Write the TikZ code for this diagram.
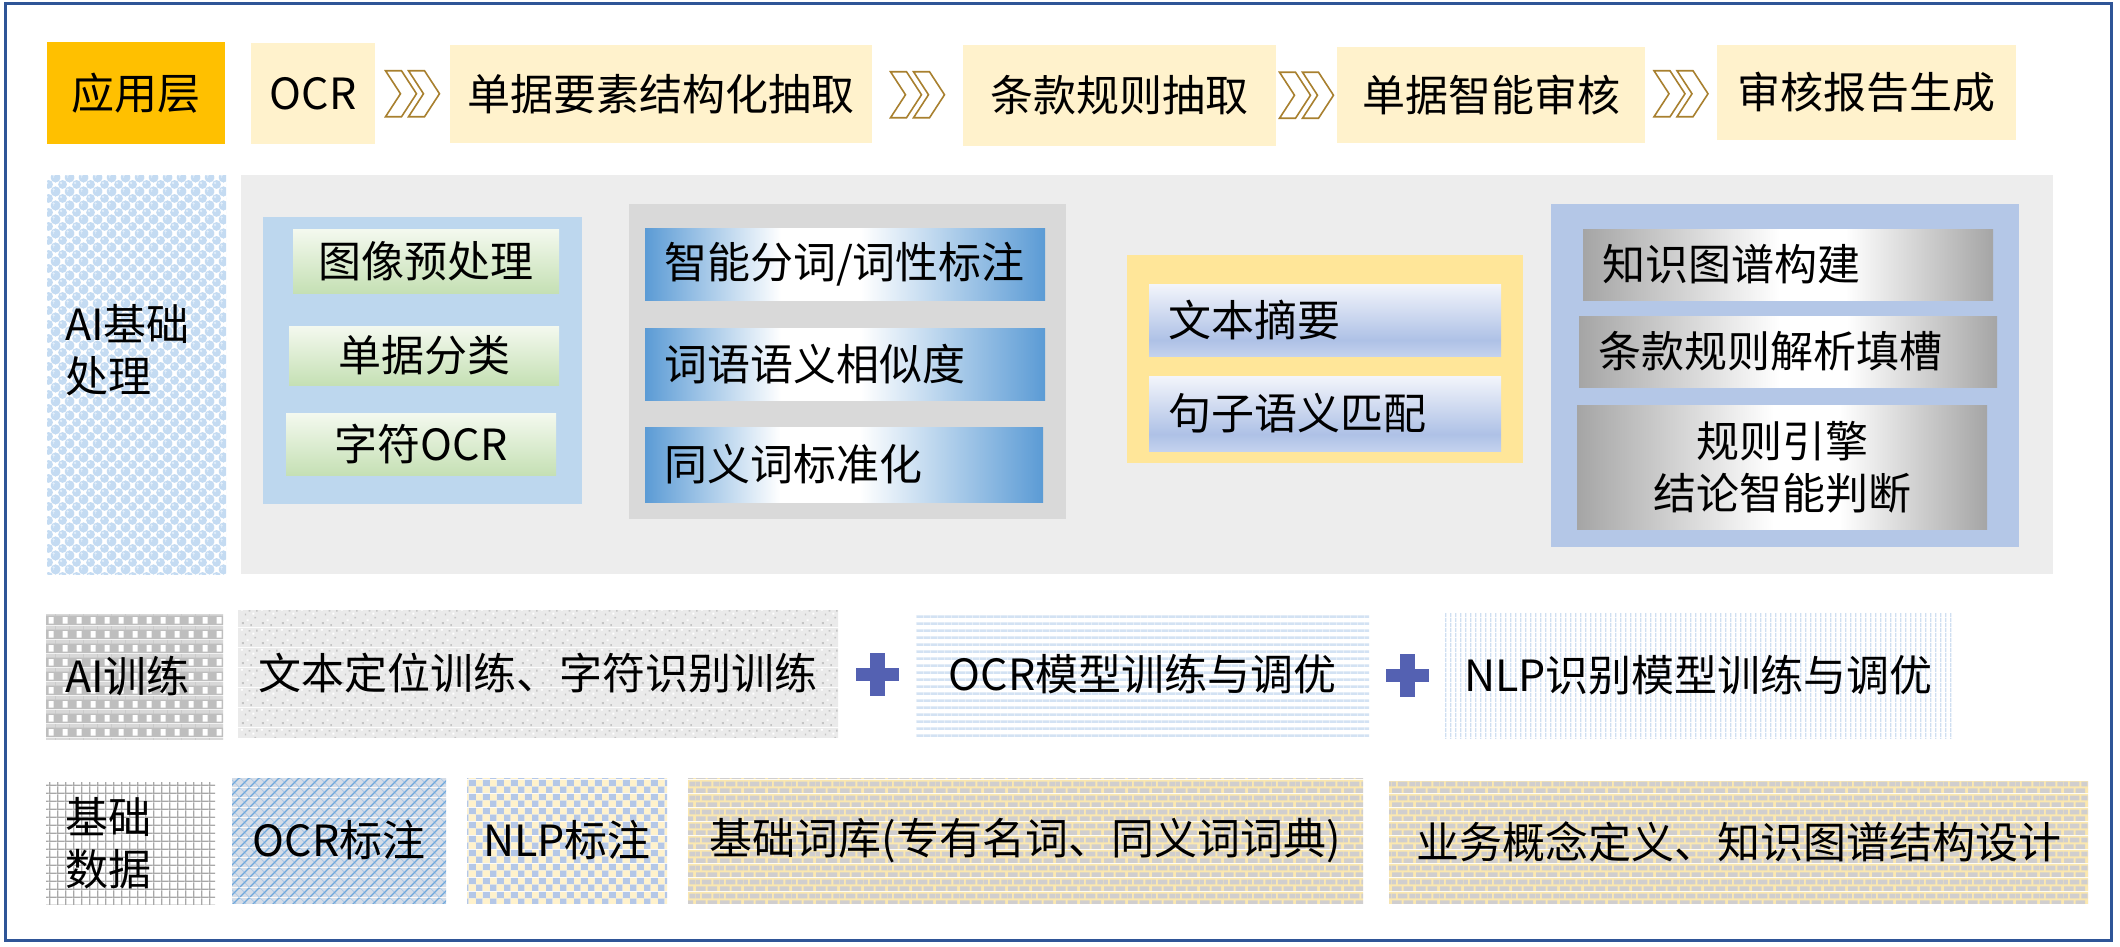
\documentclass[tikz,border=0pt]{standalone}
\usepackage{fontspec}
\setmainfont{Noto Sans CJK SC}
\usetikzlibrary{patterns.meta,calc}

\definecolor{frameC}{HTML}{2F5597}
\definecolor{goldC}{HTML}{FFC000}
\definecolor{creamC}{HTML}{FFF2CC}
\definecolor{chevC}{HTML}{A8802F}
\definecolor{panelC}{HTML}{EDEDED}
\definecolor{lblueC}{HTML}{BDD7EE}
\definecolor{dgrayC}{HTML}{D9D9D9}
\definecolor{yelC}{HTML}{FFE699}
\definecolor{pblueC}{HTML}{B4C7E7}
\definecolor{greenT}{HTML}{F4F9EF}
\definecolor{greenB}{HTML}{C5E0B4}
\definecolor{bwbL}{HTML}{5B9BD5}
\definecolor{bwbR}{HTML}{5B9BD5}
\definecolor{grayS}{HTML}{A5A5A5}
\definecolor{sumT}{HTML}{F3F5FB}
\definecolor{sumM}{HTML}{AEC1E6}
\definecolor{sumB}{HTML}{C4D2EE}
\definecolor{plusC}{HTML}{5461B2}
% pattern colours
\definecolor{bubB}{HTML}{C4DBF2}
\definecolor{bubW}{HTML}{E4EFFA}
\definecolor{weaveG}{HTML}{BEBEBE}
\definecolor{weaveL}{HTML}{D8D8D8}
\definecolor{gridG}{HTML}{A8A8A8}
\definecolor{latBg}{HTML}{D5DCE6}
\definecolor{latL}{HTML}{6FA8DC}
\definecolor{latL2}{HTML}{A9C8E8}
\definecolor{chkA}{HTML}{B4C7E7}
\definecolor{chkB}{HTML}{FFF2CC}
\definecolor{brickB}{HTML}{D0CECE}
\definecolor{brickM}{HTML}{FBE8B0}
\definecolor{granBg}{HTML}{EAEAEA}
\definecolor{granD}{HTML}{C4C4C4}
\definecolor{stripeC}{HTML}{D3E2F3}
\definecolor{vstripeC}{HTML}{CFDFF1}

\pgfdeclarehorizontalshading{bwbsh}{100bp}{color(0bp)=(bwbL); color(25bp)=(bwbL); color(42bp)=(white); color(52bp)=(white); color(75bp)=(bwbR); color(100bp)=(bwbR)}
\pgfdeclarehorizontalshading{gwgsh}{100bp}{color(0bp)=(grayS); color(25bp)=(grayS); color(49bp)=(white); color(57bp)=(white); color(75bp)=(grayS); color(100bp)=(grayS)}
\pgfdeclareverticalshading{sumsh}{100bp}{color(0bp)=(sumB); color(25bp)=(sumB); color(36bp)=(sumM); color(75bp)=(sumT); color(100bp)=(sumT)}

\tikzdeclarepattern{name=bubbles, type=colored,
  bounding box={(0pt,0pt) and (14pt,14pt)}, tile size={(14pt,14pt)},
  code={\fill[white] (0pt,0pt) rectangle (14pt,14pt);
        \foreach \cx/\cy in {7/7,0/0,14/0,0/14,14/14}{
          \fill[bubB] (\cx pt,\cy pt) circle [radius=4.7pt];
          \fill[bubW] (\cx pt-1.6pt,\cy pt+1.6pt) circle [radius=1.4pt];}}}
\tikzdeclarepattern{name=weave, type=colored,
  bounding box={(0pt,0pt) and (14pt,14pt)}, tile size={(14pt,14pt)},
  code={\fill[weaveG] (0pt,0pt) rectangle (14pt,14pt);
        \fill[weaveL] (0pt,10pt) rectangle (14pt,14pt);
        \fill[white] (7pt,1.5pt) rectangle (12.5pt,8.5pt);}}
\tikzdeclarepattern{name=gridpat, type=colored,
  bounding box={(0pt,0pt) and (8.3pt,8.3pt)}, tile size={(8.3pt,8.3pt)},
  code={\fill[white] (0pt,0pt) rectangle (8.3pt,8.3pt);
        \fill[gridG] (0pt,0pt) rectangle (8.3pt,1.6pt);
        \fill[gridG] (0pt,0pt) rectangle (1.6pt,8.3pt);}}
\tikzdeclarepattern{name=lattice, type=colored,
  bounding box={(0pt,0pt) and (10pt,10pt)}, tile size={(10pt,10pt)},
  code={\fill[latBg] (0pt,0pt) rectangle (10pt,10pt);
        \draw[latL2, line width=0.8pt] (10pt,0pt) -- (0pt,10pt);
        \draw[latL, line width=1.3pt] (0pt,0pt) -- (10pt,10pt);}}
\tikzdeclarepattern{name=checker, type=colored,
  bounding box={(0pt,0pt) and (14pt,14pt)}, tile size={(14pt,14pt)},
  code={\fill[chkA] (0pt,0pt) rectangle (7pt,7pt);
        \fill[chkA] (7pt,7pt) rectangle (14pt,14pt);
        \fill[chkB] (7pt,0pt) rectangle (14pt,7pt);
        \fill[chkB] (0pt,7pt) rectangle (7pt,14pt);}}
\tikzdeclarepattern{name=brickpat, type=colored,
  bounding box={(0pt,0pt) and (24pt,14pt)}, tile size={(24pt,14pt)},
  code={\fill[brickM] (0pt,0pt) rectangle (24pt,14pt);
        \fill[brickB] (0pt,0pt) rectangle (10pt,5pt);
        \fill[brickB] (12pt,0pt) rectangle (22pt,5pt);
        \fill[brickB] (0pt,7pt) rectangle (4pt,12pt);
        \fill[brickB] (6pt,7pt) rectangle (16pt,12pt);
        \fill[brickB] (18pt,7pt) rectangle (24pt,12pt);}}
\tikzdeclarepattern{name=granite, type=colored,
  bounding box={(0pt,0pt) and (20pt,20pt)}, tile size={(20pt,20pt)},
  code={\fill[granBg] (0pt,0pt) rectangle (20pt,20pt);
        \fill[granD] (2pt,3pt) rectangle (4pt,5pt);
        \fill[granD] (11pt,1pt) rectangle (12.5pt,3pt);
        \fill[granD] (15pt,9pt) rectangle (17pt,10.5pt);
        \fill[granD] (5pt,12pt) rectangle (6.5pt,14pt);
        \fill[granD] (9pt,16pt) rectangle (11pt,17.5pt);
        \fill[granD] (17pt,16pt) rectangle (18.5pt,18pt);
        \fill[white] (7pt,6pt) rectangle (9pt,8pt);
        \fill[white] (13pt,13pt) rectangle (15pt,15pt);
        \fill[white] (1pt,17pt) rectangle (3pt,19pt);}}
\tikzdeclarepattern{name=hstripes, type=colored,
  bounding box={(0pt,0pt) and (7pt,7pt)}, tile size={(7pt,7pt)},
  code={\fill[white] (0pt,0pt) rectangle (7pt,7pt);
        \fill[stripeC] (0pt,0pt) rectangle (7pt,3pt);}}
\tikzdeclarepattern{name=vstripes, type=colored,
  bounding box={(0pt,0pt) and (5pt,5pt)}, tile size={(5pt,5pt)},
  code={\fill[white] (0pt,0pt) rectangle (5pt,5pt);
        \fill[vstripeC] (0pt,0pt) rectangle (1.7pt,5pt);}}

\newcommand{\fs}{\fontsize{43pt}{52pt}\selectfont}
\newcommand{\mkbox}[7]{\node[#1, minimum width={(#5-#3)*1pt}, minimum height={(#6-#4)*1pt}] (#2) at ({(#3+#5)/2},{(#4+#6)/2}) {#7};}

\tikzset{
  base/.style={inner sep=0pt, outer sep=0pt, font=\fs, text=black, align=center},
  ltxt/.style={label={[base, anchor=west, xshift=19pt, align=left]west:#1}},
  appl/.style={base, fill=goldC},
  appbox/.style={base, fill=creamC},
  panel/.style={base, fill=#1},
  greenbox/.style={base, top color=greenT, bottom color=greenB},
  bwbbox/.style={base, shading=bwbsh},
  sumbox/.style={base, shading=sumsh},
  graybox/.style={base, shading=gwgsh},
  patbox/.style={base, pattern=#1},
  chevstyle/.style={fill=white, draw=chevC, line width=1.6pt, line join=miter},
  chevs/.pic={\foreach \d in {0,23}{\filldraw[chevstyle] ({\d-27},-23) -- ++(16,0) -- ++(15,23) -- ++(-15,23) -- ++(-16,0) -- ++(15,-23) -- cycle;}},
  plussign/.pic={\fill[plusC] (-21.5,-6.5) rectangle (21.5,6.5); \fill[plusC] (-7.5,-21.5) rectangle (7.5,21.5);}
}

\begin{document}
\begin{tikzpicture}[x=1pt, y=-1pt]
\useasboundingbox (0,0) rectangle (2120,947);
\fill[white] (0,0) rectangle (2120,947);
\draw[frameC, line width=3pt] (5,4) rectangle (2111,940);

% Row 1
\mkbox{appl}{l1}{47}{42}{225}{144}{应用层}
\mkbox{appbox}{a1}{251}{43}{375}{144}{OCR}
\mkbox{appbox}{a2}{450}{45}{872}{143}{单据要素结构化抽取}
\mkbox{appbox}{a3}{963}{45}{1276}{146}{条款规则抽取}
\mkbox{appbox}{a4}{1337}{47}{1645}{143}{单据智能审核}
\mkbox{appbox}{a5}{1717}{45}{2016}{140}{审核报告生成}
\pic at ($(a1.east)!0.5!(a2.west)$) {chevs};
\pic at ($(a2.east)!0.5!(a3.west)$) {chevs};
\pic at ($(a3.east)!0.5!(a4.west)$) {chevs};
\pic at ($(a4.east)!0.5!(a5.west)$) {chevs};

% Row 2
\mkbox{patbox=bubbles, label={[base, anchor=west, xshift=18pt, yshift=24pt, align=left]west:AI基础\\处理}}{l2}{47}{175}{226}{574}{}
\mkbox{panel=panelC}{pan}{241}{175}{2053}{574}{}
\mkbox{panel=lblueC}{p1}{263}{217}{582}{504}{}
\mkbox{greenbox}{g1}{293}{229}{559}{293}{图像预处理}
\mkbox{greenbox}{g2}{289}{326}{559}{385}{单据分类}
\mkbox{greenbox}{g3}{286}{413}{556}{475}{字符OCR}
\mkbox{panel=dgrayC}{p2}{629}{204}{1066}{519}{}
\mkbox{bwbbox, ltxt={智能分词/词性标注}}{b1}{645}{228}{1045}{300}{}
\mkbox{bwbbox, ltxt={词语语义相似度}}{b2}{645}{328}{1045}{400}{}
\mkbox{bwbbox, ltxt={同义词标准化}}{b3}{645}{427}{1043}{502}{}
\mkbox{panel=yelC}{p3}{1127}{255}{1523}{463}{}
\mkbox{sumbox, ltxt={文本摘要}}{s1}{1149}{284}{1501}{356}{}
\mkbox{sumbox, ltxt={句子语义匹配}}{s2}{1149}{376}{1501}{451}{}
\mkbox{panel=pblueC}{p4}{1551}{204}{2019}{547}{}
\mkbox{graybox, ltxt={知识图谱构建}}{k1}{1583}{229}{1993}{300}{}
\mkbox{graybox, ltxt={条款规则解析填槽}}{k2}{1579}{316}{1997}{387}{}
\mkbox{graybox}{k3}{1577}{405}{1987}{529}{规则引擎\\结论智能判断}

% Row 3
\mkbox{patbox=weave, ltxt={AI训练}}{l3}{46}{614}{223}{739}{}
\mkbox{patbox=granite}{t1}{238}{610}{838}{737}{文本定位训练、字符识别训练}
\mkbox{patbox=hstripes}{t2}{916}{612}{1369}{737}{OCR模型训练与调优}
\mkbox{patbox=vstripes}{t3}{1445}{613}{1952}{738}{NLP识别模型训练与调优}
\pic at ($(t1.east)!0.5!(t2.west)$) {plussign};
\pic at ($(t2.east)!0.5!(t3.west)$) {plussign};

% Row 4
\mkbox{patbox=gridpat, ltxt={基础\\数据}}{l4}{46}{782}{215}{904}{}
\mkbox{patbox=lattice}{d1}{232}{778}{446}{903}{OCR标注}
\mkbox{patbox=checker}{d2}{467}{778}{667}{903}{NLP标注}
\mkbox{patbox=brickpat}{d3}{688}{778}{1363}{903}{基础词库(专有名词、同义词词典)}
\mkbox{patbox=brickpat}{d4}{1389}{781}{2088}{903}{业务概念定义、知识图谱结构设计}
\end{tikzpicture}
\end{document}
